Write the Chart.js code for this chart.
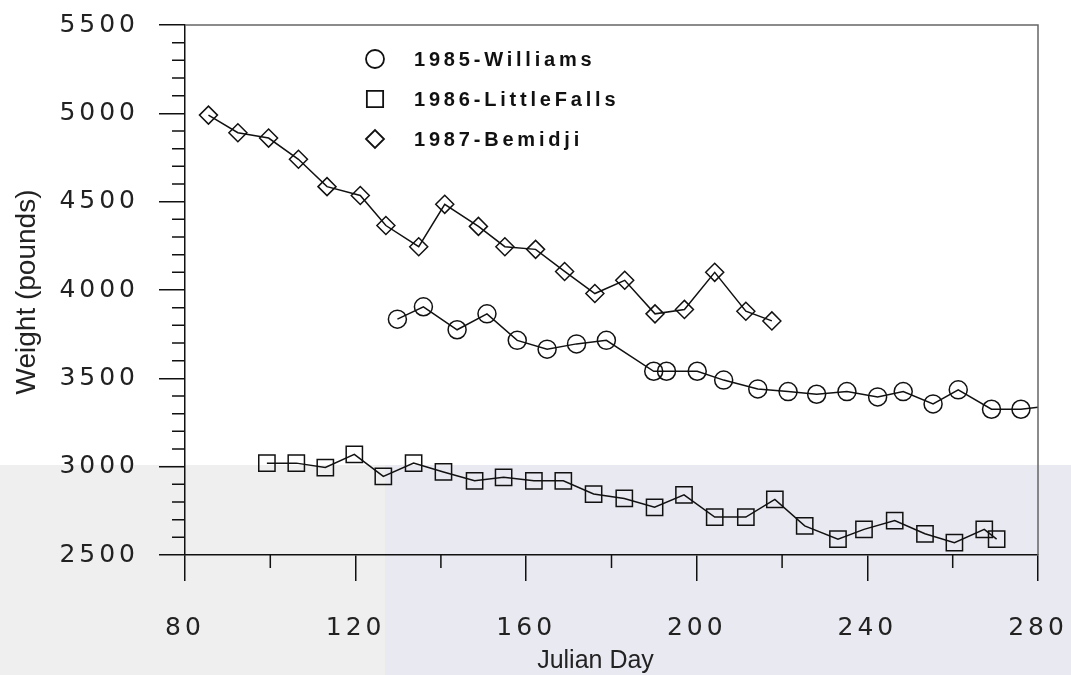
<!DOCTYPE html>
<html>
<head>
<meta charset="utf-8">
<title>Weight vs Julian Day</title>
<script src="https://cdn.jsdelivr.net/npm/chart.js@4"></script>
<style>
  html, body { margin: 0; padding: 0; background: #fff; }
  #wrap { width: 1071px; height: 675px; }
</style>
</head>
<body>
<div id="wrap"><canvas id="weightChart" width="1071" height="675"></canvas></div>
<script>
// Data
const williamsDay = [129.8, 135.9, 143.8, 150.8, 157.9, 164.9, 171.8, 178.8, 189.9, 192.9, 200.1, 206.3,
  214.3, 221.4, 228.1, 235.2, 242.4, 248.4, 255.4, 261.3, 269.1, 276.0, 283.0];
const williamsWeight = [3835, 3905, 3775, 3865, 3715, 3665, 3695, 3715, 3540, 3540, 3540, 3490,
  3440, 3425, 3410, 3425, 3395, 3425, 3355, 3435, 3325, 3325, 3345];

const littleFallsDay = [99.2, 106.1, 112.9, 119.7, 126.5, 133.6, 140.6, 147.9, 154.7, 161.8, 168.7, 175.8,
  183.0, 190.1, 197.0, 204.2, 211.5, 218.3, 225.3, 233.1, 239.2, 246.4, 253.5, 260.4, 267.4, 270.3];
const littleFallsWeight = [3020, 3020, 2995, 3070, 2945, 3020, 2970, 2920, 2940, 2920, 2920, 2845,
  2820, 2770, 2840, 2715, 2715, 2815, 2665, 2590, 2645, 2695, 2620, 2570, 2645, 2590];

const bemidjiDay = [85.5, 92.4, 99.6, 106.6, 113.3, 121.1, 127.1, 134.8, 140.9, 148.8, 155.0, 162.2,
  169.0, 176.1, 183.1, 190.2, 197.1, 204.2, 211.5, 217.6];
const bemidjiWeight = [4990, 4890, 4860, 4740, 4585, 4535, 4365, 4245, 4485, 4360, 4245, 4230,
  4105, 3980, 4055, 3865, 3890, 4100, 3880, 3825];

const seriesLabels = ['1985-Williams', '1986-LittleFalls', '1987-Bemidji'];
const seriesStyles = ['circle', 'rect', 'rectRot'];

const xMin = 80, xMax = 280, xStep = 40, xMinorStep = 20;
const yMin = 2500, yMax = 5500, yStep = 500, yMinorStep = 100;

const xTitle = 'Julian Day';
const yTitle = 'Weight (pounds)';

function toPoints(days, weights) {
  return days.map((d, i) => ({ x: d, y: weights[i] }));
}

function makeDataset(label, days, weights, style, radius) {
  return {
    label: label,
    data: toPoints(days, weights),
    showLine: true,
    borderColor: '#111',
    borderWidth: 1.5,
    backgroundColor: 'rgba(0,0,0,0)',
    pointStyle: style,
    pointRadius: radius,
    pointBorderWidth: 1.5,
    pointBorderColor: '#111',
    pointBackgroundColor: 'rgba(0,0,0,0)',
    tension: 0
  };
}

// keep the plot box exactly where the scan has it
function fixPadding(scale) {
  scale.paddingLeft = 0;
  scale.paddingRight = 0;
  scale.paddingTop = 0;
  scale.paddingBottom = 0;
}

// Paper background with the greyish scan band at the bottom
const paperPlugin = {
  id: 'paper',
  beforeDraw(chart) {
    const ctx = chart.ctx;
    ctx.save();
    ctx.fillStyle = '#ffffff';
    ctx.fillRect(0, 0, chart.width, chart.height);
    ctx.fillStyle = '#efefef';
    ctx.fillRect(0, 465, 385, chart.height - 465);
    ctx.fillStyle = '#e9e9f1';
    ctx.fillRect(385, 465, chart.width - 385, chart.height - 465);
    ctx.restore();
    ctx.letterSpacing = '4px';
  }
};

// Minor ticks, frame, axis titles and the legend
const decorPlugin = {
  id: 'decor',
  afterDraw(chart) {
    const ctx = chart.ctx;
    const a = chart.chartArea;
    const xs = chart.scales.x, ys = chart.scales.y;
    ctx.save();
    ctx.letterSpacing = '0px';

    // frame top/right (faint on the scan)
    ctx.strokeStyle = '#666';
    ctx.lineWidth = 1.5;
    ctx.beginPath();
    ctx.moveTo(a.left, a.top);
    ctx.lineTo(a.right, a.top);
    ctx.lineTo(a.right, a.bottom);
    ctx.stroke();

    // minor ticks
    ctx.strokeStyle = '#111';
    ctx.lineWidth = 1.5;
    ctx.beginPath();
    for (let v = yMin + yMinorStep; v < yMax; v += yMinorStep) {
      if (v % yStep === 0) continue;
      const py = ys.getPixelForValue(v);
      ctx.moveTo(a.left - 13, py);
      ctx.lineTo(a.left, py);
    }
    for (let v = xMin + xMinorStep; v < xMax; v += xMinorStep) {
      if (v % xStep === 0) continue;
      const px = xs.getPixelForValue(v);
      ctx.moveTo(px, a.bottom);
      ctx.lineTo(px, a.bottom + 13);
    }
    ctx.stroke();

    // axis titles
    ctx.fillStyle = '#222';
    ctx.textAlign = 'center';
    ctx.textBaseline = 'middle';
    ctx.font = '25px "Liberation Sans", Arial, sans-serif';
    ctx.fillText(xTitle, (a.left + a.right) / 2 - 16, 661);
    ctx.save();
    ctx.translate(27, 292);
    ctx.rotate(-Math.PI / 2);
    ctx.font = '28px "Liberation Sans", Arial, sans-serif';
    ctx.fillText(yTitle, 0, 0);
    ctx.restore();

    // legend
    const radii = [9, 11.5, 9];
    ctx.font = 'bold 20px "Liberation Sans", Arial, sans-serif';
    ctx.letterSpacing = '3.8px';
    ctx.textAlign = 'left';
    ctx.textBaseline = 'middle';
    seriesLabels.forEach((label, i) => {
      const cy = 59 + i * 40;
      ctx.strokeStyle = '#111';
      ctx.fillStyle = 'rgba(0,0,0,0)';
      ctx.lineWidth = 1.8;
      Chart.helpers.drawPoint(ctx, { pointStyle: seriesStyles[i], radius: radii[i], rotation: 0, borderWidth: 1.8 }, 375, cy);
      ctx.fillStyle = '#111';
      ctx.fillText(label, 414, cy + 1);
    });
    ctx.restore();
  }
};

const tickFont = { family: '"DejaVu Sans", "Liberation Sans", Arial, sans-serif', size: 25 };

const chart = new Chart(document.getElementById('weightChart'), {
  type: 'scatter',
  data: {
    datasets: [
      makeDataset(seriesLabels[0], williamsDay, williamsWeight, seriesStyles[0], 9),
      makeDataset(seriesLabels[1], littleFallsDay, littleFallsWeight, seriesStyles[1], 11.5),
      makeDataset(seriesLabels[2], bemidjiDay, bemidjiWeight, seriesStyles[2], 9)
    ]
  },
  options: {
    responsive: false,
    animation: false,
    layout: { padding: { top: 25, right: 33, left: 0, bottom: 0 } },
    plugins: {
      legend: { display: false },
      tooltip: { enabled: false }
    },
    scales: {
      x: {
        type: 'linear',
        min: xMin,
        max: xMax,
        afterFit(scale) { scale.height = 120; fixPadding(scale); },
        border: { display: true, color: '#111', width: 1.5 },
        grid: { drawOnChartArea: false, drawTicks: true, tickLength: 26, color: '#111', lineWidth: 1.5 },
        ticks: { stepSize: xStep, padding: 32, color: '#222', font: tickFont, maxRotation: 0,
          callback: v => String(v) }
      },
      y: {
        type: 'linear',
        min: yMin,
        max: yMax,
        afterFit(scale) { scale.width = 185; fixPadding(scale); },
        border: { display: true, color: '#111', width: 1.5 },
        grid: { drawOnChartArea: false, drawTicks: true, tickLength: 26, color: '#111', lineWidth: 1.5 },
        ticks: { stepSize: yStep, padding: 20, color: '#222', font: tickFont,
          callback: v => String(v) }
      }
    }
  },
  plugins: [paperPlugin, decorPlugin]
});
</script>
</body>
</html>
